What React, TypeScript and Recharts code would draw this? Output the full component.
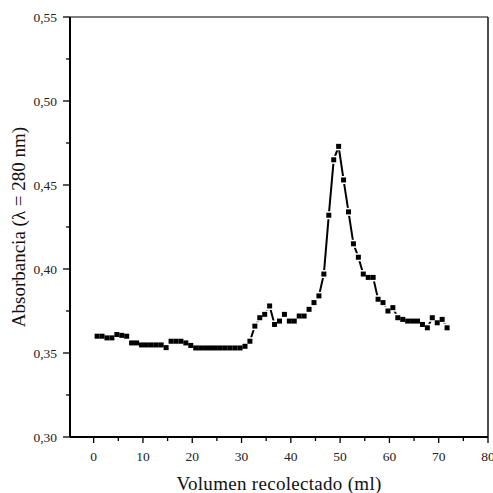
import React from 'react';
import { LineChart, Line, XAxis, YAxis, ReferenceLine, Label } from 'recharts';

// volumen recolectado (ml)
const volumes = [
  0.7, 1.7, 2.7, 3.7, 4.7, 5.7, 6.7, 7.7, 8.7, 9.7,
  10.7, 11.7, 12.7, 13.7, 14.7, 15.7, 16.7, 17.7, 18.7, 19.7,
  20.7, 21.7, 22.7, 23.7, 24.7, 25.7, 26.7, 27.7, 28.7, 29.7,
  30.7, 31.7, 32.7, 33.7, 34.7, 35.7, 36.7, 37.7, 38.7, 39.7,
  40.7, 41.7, 42.7, 43.7, 44.7, 45.7, 46.7, 47.7, 48.7, 49.7,
  50.7, 51.7, 52.7, 53.7, 54.7, 55.7, 56.7, 57.7, 58.7, 59.7,
  60.7, 61.7, 62.7, 63.7, 64.7, 65.7, 66.7, 67.7, 68.7, 69.7,
  70.7, 71.7,
];

// absorbancia a 280 nm
const absorbance = [
  0.360, 0.360, 0.359, 0.359, 0.361, 0.3605, 0.360, 0.356, 0.356, 0.3548,
  0.3548, 0.3548, 0.3548, 0.3548, 0.3532, 0.357, 0.357, 0.357, 0.356, 0.3545,
  0.353, 0.353, 0.353, 0.353, 0.353, 0.353, 0.353, 0.353, 0.353, 0.353,
  0.354, 0.357, 0.366, 0.371, 0.373, 0.378, 0.367, 0.369, 0.373, 0.369,
  0.369, 0.372, 0.372, 0.376, 0.380, 0.384, 0.397, 0.432, 0.465, 0.473,
  0.453, 0.434, 0.415, 0.407, 0.397, 0.395, 0.395, 0.382, 0.380, 0.375,
  0.377, 0.371, 0.370, 0.369, 0.369, 0.369, 0.367, 0.365, 0.371, 0.368,
  0.370, 0.365,
];

const xTicks = [0, 5, 10, 15, 20, 25, 30, 35, 40, 45, 50, 55, 60, 65, 70, 75, 80];
const yTicks = [0.3, 0.325, 0.35, 0.375, 0.4, 0.425, 0.45, 0.475, 0.5, 0.525, 0.55];

const data = volumes.map((v, i) => ({ v, a: absorbance[i] }));

const FONT = '"Liberation Serif", "Times New Roman", serif';

const XTick = (props: any) => {
  const { x, y, payload } = props;
  const major = payload.value % 10 === 0;
  return (
    <g>
      <line x1={x} x2={x} y1={y} y2={y + (major ? 6 : 4)} stroke="#000" strokeWidth={1.3} />
      {major && (
        <text x={x} y={y + 24} textAnchor="middle" fontSize={13.5} fontFamily={FONT} fill="#222">
          {payload.value}
        </text>
      )}
    </g>
  );
};

const YTick = (props: any) => {
  const { x, y, payload } = props;
  const major = Math.round(payload.value * 1000) % 50 === 0;
  return (
    <g>
      <line x1={x - (major ? 7 : 4)} x2={x} y1={y} y2={y} stroke="#000" strokeWidth={1.3} />
      {major && (
        <text x={x - 13} y={y + 4.5} textAnchor="end" fontSize={13.5} fontFamily={FONT} fill="#222">
          {payload.value.toFixed(2).replace('.', ',')}
        </text>
      )}
    </g>
  );
};

const whiteSquare = (p: any) => (
  <rect key={`w-${p.index}`} x={p.cx - 4} y={p.cy - 4} width={8} height={8} fill="#fff" />
);

const blackSquare = (p: any) => (
  <rect key={`b-${p.index}`} x={p.cx - 2.5} y={p.cy - 2.5} width={5} height={5} fill="#000" />
);

const App: React.FC = () => {
  return (
    <div style={{ position: 'absolute', left: 0, top: 0, background: '#fff' }}>
      <LineChart width={493} height={493} data={data} margin={{ top: 17, right: 5, left: 0, bottom: 0 }}>
        <XAxis
          type="number"
          dataKey="v"
          domain={[-4.8, 80]}
          ticks={xTicks}
          interval={0}
          allowDataOverflow
          height={56}
          tickSize={0}
          tickMargin={0}
          tickLine={false}
          tick={<XTick />}
          axisLine={{ stroke: '#000', strokeWidth: 2 }}
        >
          <Label
            content={({ viewBox }: any) => (
              <text
                x={viewBox.x + viewBox.width / 2}
                y={490}
                textAnchor="middle"
                fontSize={19}
                letterSpacing={0.3}
                fontFamily={FONT}
                fill="#111"
              >
                Volumen recolectado (ml)
              </text>
            )}
          />
        </XAxis>
        <YAxis
          type="number"
          domain={[0.3, 0.55]}
          ticks={yTicks}
          interval={0}
          width={70}
          tickSize={0}
          tickMargin={0}
          tickLine={false}
          tick={<YTick />}
          axisLine={{ stroke: '#000', strokeWidth: 2 }}
        >
          <Label
            content={({ viewBox }: any) => {
              const cy = viewBox.y + viewBox.height / 2;
              return (
                <text
                  x={25}
                  y={cy}
                  transform={`rotate(-90 25 ${cy})`}
                  textAnchor="middle"
                  fontSize={19}
                  fontFamily={FONT}
                  fill="#111"
                >
                  Absorbancia (λ = 280 nm)
                </text>
              );
            }}
          />
        </YAxis>
        <ReferenceLine y={0.55} stroke="#000" strokeWidth={1.2} />
        <ReferenceLine x={80} stroke="#000" strokeWidth={1.4} />
        <Line type="linear" dataKey="a" stroke="#000" strokeWidth={2} dot={false} activeDot={false} isAnimationActive={false} />
        <Line type="linear" dataKey="a" stroke="none" dot={whiteSquare} activeDot={false} isAnimationActive={false} />
        <Line type="linear" dataKey="a" stroke="none" dot={blackSquare} activeDot={false} isAnimationActive={false} />
      </LineChart>
    </div>
  );
};

export default App;
